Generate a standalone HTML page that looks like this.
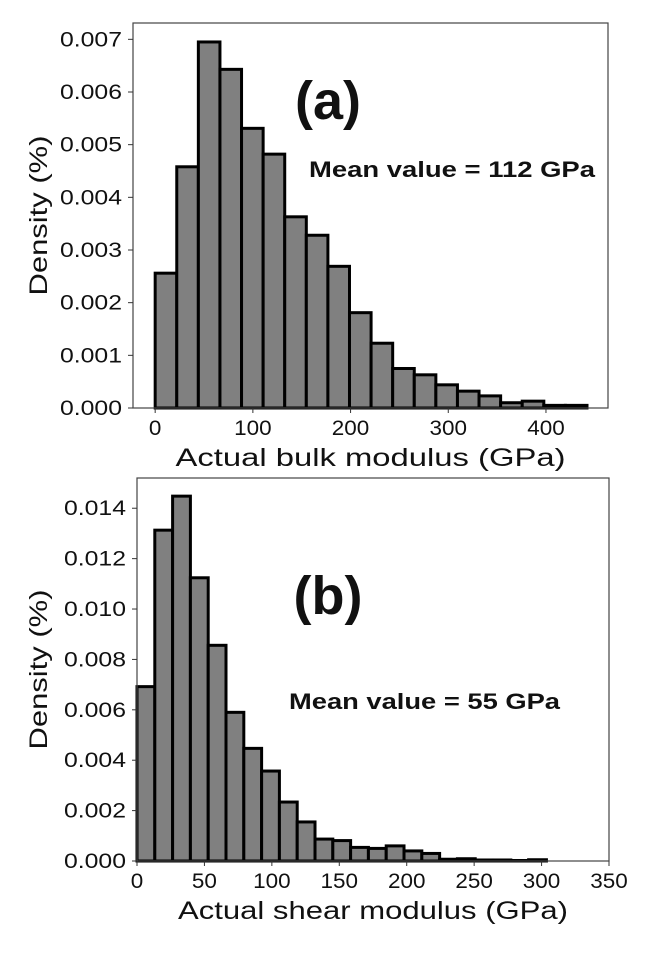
<!DOCTYPE html>
<html><head><meta charset="utf-8"><style>
body{margin:0;background:#fff}
svg text{font-family:"Liberation Sans","DejaVu Sans",sans-serif;fill:#111}
.tick{font-size:21px}
.lab{font-size:25px}
</style></head><body>
<svg id="fig" width="656" height="948" viewBox="0 0 656 948"></svg>
<script>
const aVals=[2.56,4.58,6.95,6.43,5.31,4.82,3.63,3.28,2.69,1.81,1.23,0.75,0.63,0.44,0.32,0.23,0.10,0.13,0.05,0.05];
const aBinWidth=22.1;
const aXTicks=[0,100,200,300,400];
const aYTicks=[0,0.001,0.002,0.003,0.004,0.005,0.006,0.007];
const bVals=[6.92,13.13,14.48,11.24,8.56,5.90,4.47,3.57,2.34,1.55,0.87,0.81,0.54,0.50,0.60,0.40,0.30,0.07,0.09,0.04,0.04,0.02,0.05];
const bBinWidth=13.2;
const bXTicks=[0,50,100,150,200,250,300,350];
const bYTicks=[0,0.002,0.004,0.006,0.008,0.010,0.012,0.014];
const NS="http://www.w3.org/2000/svg";
const svg=document.getElementById('fig');
function el(t,a,txt){const e=document.createElementNS(NS,t);for(const k in a)e.setAttribute(k,a[k]);if(txt!==undefined)e.textContent=txt;svg.appendChild(e);return e;}
function panel(p){
  const sx=v=>p.x0+(v-p.xmin)/(p.xmax-p.xmin)*(p.x1-p.x0);
  const sy=v=>p.y1-(v-p.ymin)/(p.ymax-p.ymin)*(p.y1-p.y0);
  p.vals.forEach((v,i)=>{
    const r=el('rect',{x:sx(i*p.bw),y:sy(v*0.001),width:sx((i+1)*p.bw)-sx(i*p.bw),height:sy(0)-sy(v*0.001),fill:'#808080',stroke:'#000','stroke-width':3});
    
    
  });
  const f=el('rect',{x:p.x0,y:p.y0,width:p.x1-p.x0,height:p.y1-p.y0,fill:'none',stroke:'#444','stroke-width':1.2});
  
  
  p.xt.forEach(t=>{
    el('line',{x1:sx(t),x2:sx(t),y1:p.y1,y2:p.y1+5,stroke:'#333'});
    const s=String(t);
    const tx=el('text',{x:sx(t),y:p.y1+27,'text-anchor':'middle',class:'tick',textLength:s.length*12.5,lengthAdjust:'spacingAndGlyphs'},s);
    
    
  });
  p.yt.forEach(t=>{
    el('line',{x1:p.x0-5,x2:p.x0,y1:sy(t),y2:sy(t),stroke:'#333'});
    const tx=el('text',{x:p.x0-11,y:sy(t)+7,'text-anchor':'end',class:'tick',textLength:62,lengthAdjust:'spacingAndGlyphs'},t.toFixed(3));
    
    
  });
  const xl=el('text',{x:(p.x0+p.x1)/2,y:p.y1+58,'text-anchor':'middle',class:'lab',textLength:390,lengthAdjust:'spacingAndGlyphs'},p.xlab);
  
  
  const yc=(p.y0+p.y1)/2;
  const yl=el('text',{x:47,y:yc,'text-anchor':'middle',class:'lab',transform:`rotate(-90 47 ${yc})`,textLength:160,lengthAdjust:'spacingAndGlyphs'},'Density (%)');
  
  
  const pl=el('text',{x:p.px,y:p.py,'text-anchor':'middle','font-size':54,'font-weight':'bold'},p.plabel);
  
  
  const m=el('text',{x:p.mx,y:p.my,'font-size':22,'font-weight':'bold',textLength:p.mw,lengthAdjust:'spacingAndGlyphs'},p.mean);
  
  
}
panel({id:'bulk',x0:133,x1:608,y0:23,y1:408,xmin:-22.7,xmax:463.5,ymin:0,ymax:0.00731,vals:aVals,bw:aBinWidth,xt:aXTicks,yt:aYTicks,xlab:'Actual bulk modulus (GPa)',plabel:'(a)',px:328,py:119,mean:'Mean value = 112 GPa',mx:309,my:177,mw:286});
panel({id:'shear',x0:137,x1:609,y0:478,y1:861,xmin:0,xmax:350,ymin:0,ymax:0.0152,vals:bVals,bw:bBinWidth,xt:bXTicks,yt:bYTicks,xlab:'Actual shear modulus (GPa)',plabel:'(b)',px:328,py:614,mean:'Mean value = 55 GPa',mx:289,my:709,mw:271});
</script>
</body></html>
